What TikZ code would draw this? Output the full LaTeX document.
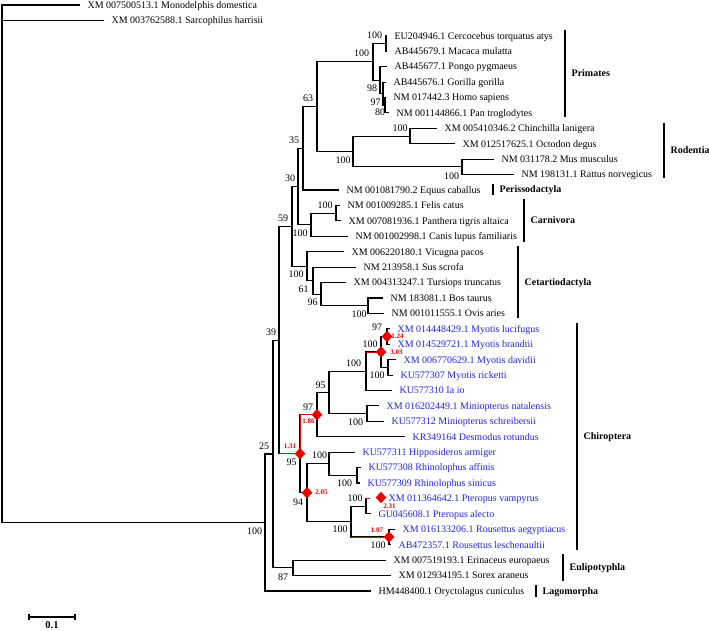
\documentclass[tikz,border=0pt]{standalone}
\usepackage{fontspec}
\setmainfont{Liberation Serif}
\usepackage{tikz}
\usetikzlibrary{shapes.geometric}
\definecolor{batblue}{RGB}{35,35,225}
\definecolor{selred}{RGB}{235,0,0}

\begin{document}
\begin{tikzpicture}[x=1pt, y=-1pt, line width=1.1pt,
    leaf/.style={anchor=west, inner sep=0pt, xshift=7pt, text height=6.6pt, text depth=0pt, font=\fontsize{10}{12}\selectfont},
    batleaf/.style={leaf, text=batblue},
    boot/.style={inner sep=0pt, font=\fontsize{10}{12}\selectfont},
    dnds/.style={inner sep=0pt, text=selred, font=\bfseries\fontsize{7}{8}\selectfont},
    selmark/.style={diamond, fill=selred, inner sep=0pt, minimum width=11pt, minimum height=12pt},
    redbranch/.style={draw=selred, line width=1pt},
    cladebar/.style={line width=1.3pt},
    clade/.style={anchor=west, inner sep=0pt, xshift=6pt, text height=6.6pt, text depth=0pt, font=\bfseries\fontsize{10}{12}\selectfont}]

    \useasboundingbox (0,0) rectangle (709,631);

    % Leaf tips
    \coordinate (mondom) at (80,5.0);
    \coordinate (sarhar) at (104,20.4);
    \coordinate (cerato) at (387,35.8);
    \coordinate (macmul) at (387,51.3);
    \coordinate (ponpyg) at (387,66.7);
    \coordinate (gorgor) at (386,82.1);
    \coordinate (homsap) at (386,97.5);
    \coordinate (pantro) at (389,112.9);
    \coordinate (chilan) at (437,128.4);
    \coordinate (octdeg) at (455,143.8);
    \coordinate (musmus) at (494,159.2);
    \coordinate (ratnor) at (514,174.6);
    \coordinate (equcab) at (339,190.0);
    \coordinate (felcat) at (340,205.5);
    \coordinate (pantig) at (341,220.9);
    \coordinate (canlup) at (348,236.3);
    \coordinate (vicpac) at (344,251.7);
    \coordinate (susscr) at (356,267.1);
    \coordinate (turtru) at (346,282.6);
    \coordinate (bostau) at (383,298.0);
    \coordinate (ovisar) at (384,313.4);
    \coordinate (myoluc) at (390,328.8);
    \coordinate (myobra) at (390,344.2);
    \coordinate (myodav) at (396,359.7);
    \coordinate (myoric) at (393,375.1);
    \coordinate (iaio)   at (392,390.5);
    \coordinate (minnat) at (379,405.9);
    \coordinate (minsch) at (384,421.3);
    \coordinate (desrot) at (405,436.8);
    \coordinate (hiparm) at (355,452.2);
    \coordinate (rhiaff) at (361,467.6);
    \coordinate (rhisin) at (360,483.0);
    \coordinate (ptevam) at (370,498.4);
    \coordinate (pteale) at (371,513.9);
    \coordinate (rouaeg) at (395,529.3);
    \coordinate (roules) at (391,544.7);
    \coordinate (erieur) at (386,560.1);
    \coordinate (sorara) at (391,575.5);
    \coordinate (orycun) at (371,591.0);

    % Internal nodes
    \coordinate (root)  at (2,5.0);
    \coordinate (euth)  at (265,522.5);
    \coordinate (bor)   at (273,454.0);
    \coordinate (lau)   at (279,340.1);
    \coordinate (eul)   at (293,567.8);
    \coordinate (n59)   at (292,226.4);
    \coordinate (n30)   at (298,186.6);
    \coordinate (n35)   at (303,148.4);
    \coordinate (n63)   at (317,106.7);
    \coordinate (pri)   at (373,61.9);
    \coordinate (catar) at (386,43.5);
    \coordinate (hom1)  at (380,80.2);
    \coordinate (hom2)  at (383,93.6);
    \coordinate (hom3)  at (385,105.2);
    \coordinate (rod)   at (353,151.5);
    \coordinate (hys)   at (410,136.1);
    \coordinate (mur)   at (462,166.9);
    \coordinate (car)   at (311,224.8);
    \coordinate (fel)   at (336,213.2);
    \coordinate (cet)   at (307,266.2);
    \coordinate (n61)   at (313,280.7);
    \coordinate (n96)   at (321,294.2);
    \coordinate (bov)   at (368,305.7);
    \coordinate (bat)   at (300,453.7);
    \coordinate (yang)  at (317,414.7);
    \coordinate (n95)   at (329,392.5);
    \coordinate (ves)   at (366,371.3);
    \coordinate (myo)   at (381,352.0);
    \coordinate (myo1)  at (387,336.5);
    \coordinate (myo2)  at (388,367.4);
    \coordinate (min)   at (367,413.6);
    \coordinate (yin)   at (307,492.7);
    \coordinate (rhin)  at (329,463.8);
    \coordinate (rhi)   at (357,475.3);
    \coordinate (ptd)   at (351,521.6);
    \coordinate (pte)   at (366,506.2);
    \coordinate (rou)   at (389,537.0);

    % Root and outgroups
    \draw (mondom) -- (root) |- (euth);
    \draw (root |- sarhar) -- (sarhar);
    \draw (bor) -| (euth) |- (orycun);
    \draw (lau) -| (bor) |- (eul);
    \draw (erieur) -| (eul) |- (sorara);

    % Primates and Rodentia
    \draw (cerato) -| (catar) |- (macmul);
    \draw (homsap) -| (hom3) |- (pantro);
    \draw (gorgor) -| (hom2) |- (hom3);
    \draw (ponpyg) -| (hom1) |- (hom2);
    \draw (catar) -| (pri) |- (hom1);
    \draw (chilan) -| (hys) |- (octdeg);
    \draw (musmus) -| (mur) |- (ratnor);
    \draw (hys) -| (rod) |- (mur);
    \draw (pri) -| (n63) |- (rod);
    \draw (n63) -| (n35) |- (equcab);

    % Carnivora and Cetartiodactyla
    \draw (felcat) -| (fel) |- (pantig);
    \draw (fel) -| (car) |- (canlup);
    \draw (n35) -| (n30) |- (car);
    \draw (bostau) -| (bov) |- (ovisar);
    \draw (turtru) -| (n96) |- (bov);
    \draw (susscr) -| (n61) |- (n96);
    \draw (vicpac) -| (cet) |- (n61);
    \draw (n30) -| (n59) |- (cet);
    \draw (n59) -| (lau) |- (bat);

    % Chiroptera
    \draw (myoluc) -| (myo1) |- (myobra);
    \draw (myodav) -| (myo2) |- (myoric);
    \draw (myo1) -| (myo) |- (myo2);
    \draw (myo) -| (ves) |- (iaio);
    \draw (minnat) -| (min) |- (minsch);
    \draw (ves) -| (n95) |- (min);
    \draw (n95) -| (yang) |- (desrot);
    \draw (rhiaff) -| (rhi) |- (rhisin);
    \draw (hiparm) -| (rhin) |- (rhi);
    \draw (ptevam) -| (pte) |- (pteale);
    \draw (rouaeg) -| (rou) |- (roules);
    \draw (pte) -| (ptd) |- (rou);
    \draw (rhin) -| (yin) |- (ptd);
    \draw (yang) -| (bat) |- (yin);

    % Selected branches
    \draw[redbranch] (lau |- bat) -- (bat);
    \draw[redbranch] (yang) -| (bat);
    \draw[redbranch] (ves |- myo) -- (myo);
    \draw[redbranch] (ptd |- rou) -- (rou);
    \draw[redbranch] (pte |- ptevam) -- (ptevam);

    \node[selmark] (sBat)  at (bat) {};
    \node[selmark] (sYang) at (yang) {};
    \node[selmark] (sMyo1) at (myo1) {};
    \node[selmark] (sMyo)  at (myo) {};
    \node[selmark] (sYin)  at (yin) {};
    \node[selmark] (sPtev) at (381,497.5) {};
    \node[selmark] (sRou)  at (rou) {};

    \node[dnds] (wBat)  at (290,446.5) {1.31};
    \node[dnds] (wYang) at (308.5,421.7) {1.86};
    \node[dnds] (wMyo1) at (397.5,336.5) {1.24};
    \node[dnds] (wMyo)  at (396.5,352) {3.03};
    \node[dnds] (wYin)  at (321.5,492.7) {2.05};
    \node[dnds] (wPtev) at (389.5,506) {2.31};
    \node[dnds] (wRou)  at (377,530) {1.07};

    % Leaf labels
    \node[leaf] (lmondom) at (mondom) {XM 007500513.1 Monodelphis domestica};
    \node[leaf] (lsarhar) at (sarhar) {XM 003762588.1 Sarcophilus harrisii};
    \node[leaf] (lcerato) at (cerato) {EU204946.1 Cercocebus torquatus atys};
    \node[leaf] (lmacmul) at (macmul) {AB445679.1 Macaca mulatta};
    \node[leaf] (lponpyg) at (ponpyg) {AB445677.1 Pongo pygmaeus};
    \node[leaf] (lgorgor) at (gorgor) {AB445676.1 Gorilla gorilla};
    \node[leaf] (lhomsap) at (homsap) {NM 017442.3 Homo sapiens};
    \node[leaf] (lpantro) at (pantro) {NM 001144866.1 Pan troglodytes};
    \node[leaf] (lchilan) at (chilan) {XM 005410346.2 Chinchilla lanigera};
    \node[leaf] (loctdeg) at (octdeg) {XM 012517625.1 Octodon degus};
    \node[leaf] (lmusmus) at (musmus) {NM 031178.2 Mus musculus};
    \node[leaf] (lratnor) at (ratnor) {NM 198131.1 Rattus norvegicus};
    \node[leaf] (lequcab) at (equcab) {NM 001081790.2 Equus caballus};
    \node[leaf] (lfelcat) at (felcat) {NM 001009285.1 Felis catus};
    \node[leaf] (lpantig) at (pantig) {XM 007081936.1 Panthera tigris altaica};
    \node[leaf] (lcanlup) at (canlup) {NM 001002998.1 Canis lupus familiaris};
    \node[leaf] (lvicpac) at (vicpac) {XM 006220180.1 Vicugna pacos};
    \node[leaf] (lsusscr) at (susscr) {NM 213958.1 Sus scrofa};
    \node[leaf] (lturtru) at (turtru) {XM 004313247.1 Tursiops truncatus};
    \node[leaf] (lbostau) at (bostau) {NM 183081.1 Bos taurus};
    \node[leaf] (lovisar) at (ovisar) {NM 001011555.1 Ovis aries};
    \node[batleaf] (lmyoluc) at (myoluc) {XM 014448429.1 Myotis lucifugus};
    \node[batleaf] (lmyobra) at (myobra) {XM 014529721.1 Myotis brandtii};
    \node[batleaf] (lmyodav) at (myodav) {XM 006770629.1 Myotis davidii};
    \node[batleaf] (lmyoric) at (myoric) {KU577307 Myotis ricketti};
    \node[batleaf] (liaio)   at (iaio)   {KU577310 Ia io};
    \node[batleaf] (lminnat) at (minnat) {XM 016202449.1 Miniopterus natalensis};
    \node[batleaf] (lminsch) at (minsch) {KU577312 Miniopterus schreibersii};
    \node[batleaf] (ldesrot) at (desrot) {KR349164 Desmodus rotundus};
    \node[batleaf] (lhiparm) at (hiparm) {KU577311 Hipposideros armiger};
    \node[batleaf] (lrhiaff) at (rhiaff) {KU577308 Rhinolophus affinis};
    \node[batleaf] (lrhisin) at (rhisin) {KU577309 Rhinolophus sinicus};
    \node[batleaf, xshift=11pt] (lptevam) at (ptevam) {XM 011364642.1 Pteropus vampyrus};
    \node[batleaf] (lpteale) at (pteale) {GU045608.1 Pteropus alecto};
    \node[batleaf] (lrouaeg) at (rouaeg) {XM 016133206.1 Rousettus aegyptiacus};
    \node[batleaf] (lroules) at (roules) {AB472357.1 Rousettus leschenaultii};
    \node[leaf] (lerieur) at (erieur) {XM 007519193.1 Erinaceus europaeus};
    \node[leaf] (lsorara) at (sorara) {XM 012934195.1 Sorex araneus};
    \node[leaf] (lorycun) at (orycun) {HM448400.1 Oryctolagus cuniculus};

    % Bootstrap values
    \node[boot] (bsCatar) at (374.5,35) {100};
    \node[boot] (bsPri)   at (361.5,53) {100};
    \node[boot] (bsHom1)  at (372,88) {98};
    \node[boot] (bsHom2)  at (375.5,102) {97};
    \node[boot] (bsHom3)  at (380,112) {80};
    \node[boot] (bs63)    at (308,98) {63};
    \node[boot] (bsRod)   at (343,160) {100};
    \node[boot] (bsHys)   at (400,128) {100};
    \node[boot] (bsMur)   at (451.5,176) {100};
    \node[boot] (bs35)    at (294,140) {35};
    \node[boot] (bs30)    at (290,178) {30};
    \node[boot] (bs59)    at (283,218) {59};
    \node[boot] (bsCar)   at (300,233) {100};
    \node[boot] (bsFel)   at (325,205) {100};
    \node[boot] (bsCet)   at (296,274) {100};
    \node[boot] (bs61)    at (303.5,289) {61};
    \node[boot] (bs96)    at (312.5,302) {96};
    \node[boot] (bsBov)   at (359,314) {100};
    \node[boot] (bs39)    at (271,332) {39};
    \node[boot] (bs25)    at (264,446) {25};
    \node[boot] (bsEuth)  at (254.5,531) {100};
    \node[boot] (bs87)    at (283,577) {87};
    \node[boot] (bsYang)  at (308,407) {97};
    \node[boot] (bs95)    at (320.5,385) {95};
    \node[boot] (bsVes)   at (353.5,363) {100};
    \node[boot] (bsMyo)   at (370,344) {100};
    \node[boot] (bsMyo1)  at (377,327) {97};
    \node[boot] (bsMyo2)  at (377,375) {100};
    \node[boot] (bsMin)   at (355.5,422) {100};
    \node[boot] (bsBat)   at (291.5,462) {95};
    \node[boot] (bsYin)   at (298,502) {94};
    \node[boot] (bsRhin)  at (319.5,455) {100};
    \node[boot] (bsRhi)   at (344.5,483) {100};
    \node[boot] (bsPte)   at (355,498) {100};
    \node[boot] (bsPtd)   at (340,529) {100};
    \node[boot] (bsRou)   at (378,545) {100};

    % Clade bars
    \draw[cladebar] (565,30) -- node[clade] (gPri) {Primates} (565,117);
    \draw[cladebar] (664,123) -- node[clade] (gRod) {Rodentia} (664,178);
    \draw[cladebar] (493,184) -- node[clade] (gPer) {Perissodactyla} (493,195);
    \draw[cladebar] (524,199) -- node[clade] (gCar) {Carnivora} (524,242);
    \draw[cladebar] (518,246) -- node[clade] (gCet) {Cetartiodactyla} (518,318);
    \draw[cladebar] (577,323) -- node[clade] (gChi) {Chiroptera} (577,550);
    \draw[cladebar] (563,554) -- node[clade] (gEul) {Eulipotyphla} (563,581);
    \draw[cladebar] (536,585) -- node[clade] (gLag) {Lagomorpha} (536,597);

    % Scale bar
    \draw (29,614) -- (29,620) (29,617) -- (75,617) (75,614) -- (75,620);
    \node[inner sep=0pt, font=\bfseries\fontsize{10.5}{12}\selectfont] (scale) at (52,625.5) {0.1};
\end{tikzpicture}
\end{document}
